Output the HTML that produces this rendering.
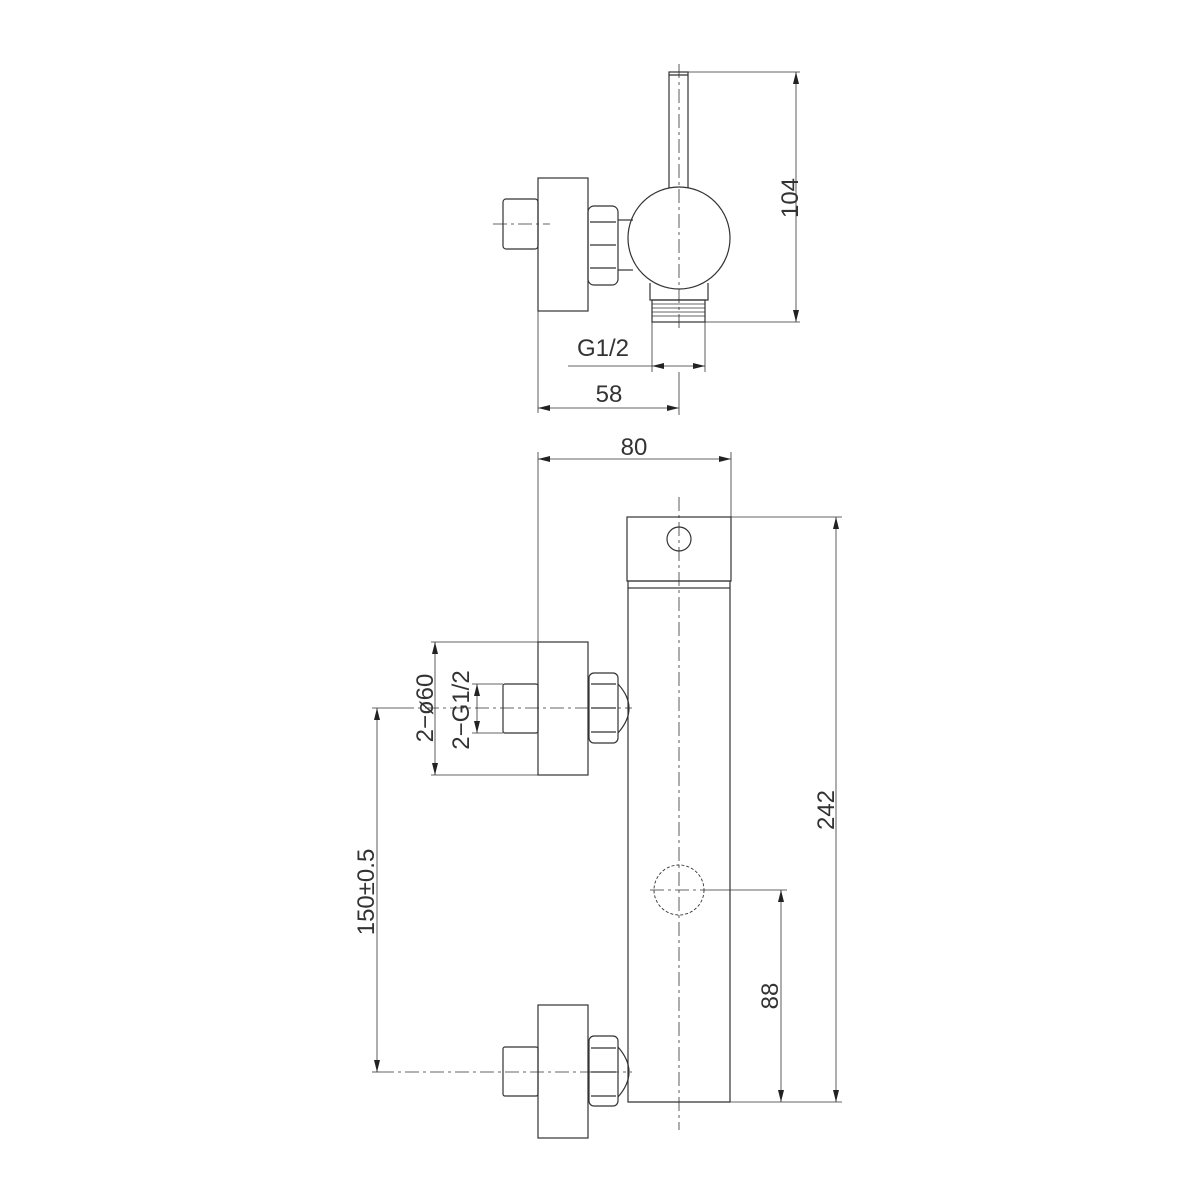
<!DOCTYPE html>
<html><head><meta charset="utf-8"><style>
html,body{margin:0;padding:0;background:#fff;}
svg{display:block;}
text{font-family:"Liberation Sans Narrow","Liberation Sans",sans-serif;font-size:24px;fill:#333;}
</style></head><body>
<svg width="1200" height="1200" viewBox="0 0 1200 1200" xmlns="http://www.w3.org/2000/svg">
<defs>
<marker id="a" viewBox="0 0 12 6" refX="12" refY="3" markerWidth="12" markerHeight="6" orient="auto-start-reverse" markerUnits="userSpaceOnUse"><path d="M0,0 L12,3 L0,6z" fill="#222"/></marker>
</defs>
<g fill="none" stroke="#333" stroke-width="1.2">
<!-- TOP VIEW -->
<rect x="669" y="72" width="19" height="118"/>
<line x1="669" y1="75" x2="688" y2="75"/>
<circle cx="679" cy="238" r="51" fill="#fff"/>
<rect x="538" y="178" width="50" height="133"/>
<rect x="503" y="199" width="35" height="50" rx="3"/>
<rect x="588" y="206" width="30" height="79" rx="6"/>
<line x1="590" y1="222" x2="616" y2="222"/><line x1="590" y1="245" x2="616" y2="245"/><line x1="590" y1="268" x2="616" y2="268"/>
<line x1="618" y1="220" x2="633" y2="220"/><line x1="618" y1="270" x2="633" y2="270"/>
<path d="M650,283 L650,300 L708,300 L708,283"/>
<rect x="652" y="300" width="53" height="22"/>
<g stroke-width="0.8"><line x1="652" y1="304" x2="705" y2="304"/><line x1="652" y1="308" x2="705" y2="308"/><line x1="652" y1="312" x2="705" y2="312"/><line x1="652" y1="316" x2="705" y2="316"/></g>
<g stroke-width="0.8" stroke-dasharray="14,4,3,4">
<line x1="679" y1="64" x2="679" y2="330"/>
<line x1="493" y1="224" x2="550" y2="224"/>
</g>
<g stroke-width="0.8">
<line x1="688" y1="72" x2="800" y2="72"/>
<line x1="705" y1="322" x2="800" y2="322"/>
<line x1="796" y1="72" x2="796" y2="322" marker-start="url(#a)" marker-end="url(#a)"/>
<line x1="652" y1="322" x2="652" y2="372"/>
<line x1="705" y1="322" x2="705" y2="372"/>
<line x1="568" y1="366" x2="652" y2="366"/>
<line x1="652" y1="366" x2="705" y2="366" marker-start="url(#a)" marker-end="url(#a)"/>
<line x1="538" y1="311" x2="538" y2="413"/>
<line x1="679" y1="372" x2="679" y2="415"/>
<line x1="538" y1="408" x2="679" y2="408" marker-start="url(#a)" marker-end="url(#a)"/>
</g>
<!-- BOTTOM VIEW -->
<rect x="627" y="517" width="104" height="64"/>
<rect x="628" y="581" width="102" height="7"/>
<path d="M628,588 L628,1102 L730,1102 L730,588"/>
<circle cx="679" cy="539" r="12"/>
<rect x="538" y="642" width="50" height="133"/>
<rect x="503" y="684" width="35" height="49" rx="2"/>
<rect x="589" y="673" width="29" height="70" rx="5"/>
<line x1="591" y1="684" x2="616" y2="684"/><line x1="591" y1="708" x2="616" y2="708"/><line x1="591" y1="732" x2="616" y2="732"/>
<path d="M618,684 Q640,708 618,733"/>
<rect x="538" y="1005" width="50" height="133"/>
<rect x="503" y="1047" width="35" height="49" rx="2"/>
<rect x="589" y="1036" width="29" height="70" rx="5"/>
<line x1="591" y1="1048" x2="616" y2="1048"/><line x1="591" y1="1072" x2="616" y2="1072"/><line x1="591" y1="1096" x2="616" y2="1096"/>
<path d="M618,1047 Q640,1072 618,1097"/>
<circle cx="679" cy="890" r="25" stroke-dasharray="3,2" stroke-width="0.9"/>
<g stroke-width="0.8" stroke-dasharray="14,4,3,4">
<line x1="679" y1="497" x2="679" y2="1130"/>
<line x1="400" y1="708" x2="632" y2="708"/>
<line x1="380" y1="1072" x2="632" y2="1072"/>
<line x1="650" y1="890" x2="705" y2="890"/>
</g>
<g stroke-width="0.8">
<line x1="538" y1="452" x2="538" y2="642"/>
<line x1="731" y1="452" x2="731" y2="517"/>
<line x1="538" y1="459" x2="731" y2="459" marker-start="url(#a)" marker-end="url(#a)"/>
<line x1="731" y1="517" x2="842" y2="517"/>
<line x1="730" y1="1102" x2="842" y2="1102"/>
<line x1="836" y1="517" x2="836" y2="1102" marker-start="url(#a)" marker-end="url(#a)"/>
<line x1="705" y1="890" x2="787" y2="890"/>
<line x1="781" y1="890" x2="781" y2="1102" marker-start="url(#a)" marker-end="url(#a)"/>
<line x1="431" y1="642" x2="538" y2="642"/>
<line x1="431" y1="775" x2="538" y2="775"/>
<line x1="435" y1="642" x2="435" y2="775" marker-start="url(#a)" marker-end="url(#a)"/>
<line x1="472" y1="684" x2="503" y2="684"/>
<line x1="472" y1="733" x2="503" y2="733"/>
<line x1="477" y1="684" x2="477" y2="733" marker-start="url(#a)" marker-end="url(#a)"/>
<line x1="372" y1="708" x2="400" y2="708"/>
<line x1="372" y1="1072" x2="380" y2="1072"/>
<line x1="377" y1="708" x2="377" y2="1072" marker-start="url(#a)" marker-end="url(#a)"/>
</g>
</g>
<text x="603" y="356" text-anchor="middle">G1/2</text>
<text x="609" y="402" text-anchor="middle">58</text>
<text x="634" y="455" text-anchor="middle">80</text>
<text transform="translate(798,198) rotate(-90)" text-anchor="middle">104</text>
<text transform="translate(834,810) rotate(-90)" text-anchor="middle">242</text>
<text transform="translate(778,996) rotate(-90)" text-anchor="middle">88</text>
<text transform="translate(374,892) rotate(-90)" text-anchor="middle">150±0.5</text>
<text transform="translate(433,708) rotate(-90)" text-anchor="middle">2−ø60</text>
<text transform="translate(469,710) rotate(-90)" text-anchor="middle">2−G1/2</text>
</svg>
</body></html>
